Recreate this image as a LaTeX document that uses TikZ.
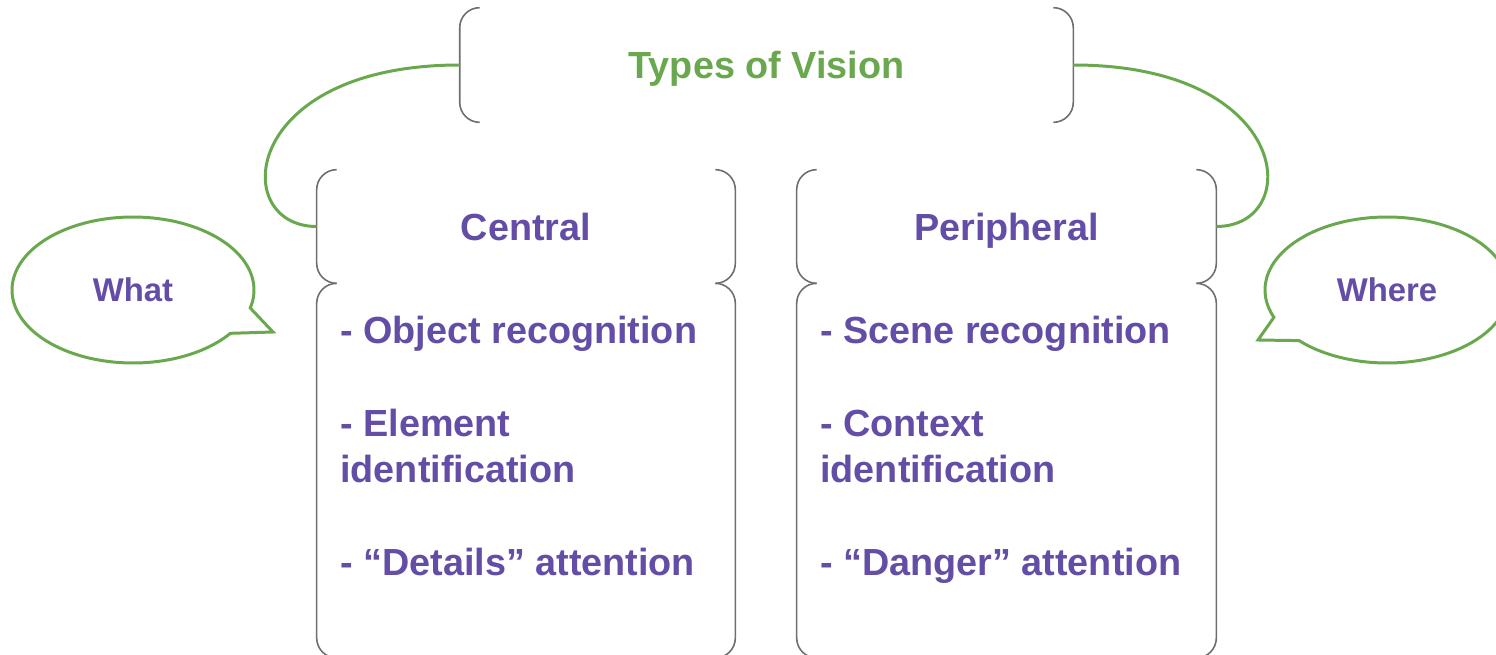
\documentclass[tikz,border=0pt]{standalone}
\usepackage{fontspec}
\setmainfont{Liberation Sans}
\usetikzlibrary{positioning}
\definecolor{visgreen}{RGB}{106,168,79}
\definecolor{vispurple}{RGB}{99,77,167}
\definecolor{visgray}{RGB}{110,110,110}
% a pair of round brackets on the left and right side of a node
\newcommand{\brackets}[1]{%
\draw[bracket] ([xshift=0.4cm]#1.north west) -- (#1.north west) -- (#1.south west) -- ([xshift=0.4cm]#1.south west);
\draw[bracket] ([xshift=-0.4cm]#1.north east) -- (#1.north east) -- (#1.south east) -- ([xshift=-0.4cm]#1.south east);}
\begin{document}
\begin{tikzpicture}[x=0.02cm, y=-0.02cm,
  box/.style={inner sep=0pt, minimum width=8.36cm, text height=15.7pt, text depth=0pt, font=\fontsize{21.5}{26}\selectfont\bfseries, text=vispurple},
  bracket/.style={draw=visgray, line width=0.9pt, rounded corners=0.4cm},
  link/.style={draw=visgreen, line width=1.7pt},
  bubble/.style={draw=visgreen, line width=1.7pt},
  items/.style={inner sep=0pt, align=left, anchor=north west, font=\fontsize{21.5}{26.4}\selectfont\bfseries, text=vispurple},
  talk/.style={font=\fontsize{18.7}{22}\selectfont\bfseries, text=vispurple}]
\useasboundingbox (0,0) rectangle (1496,655);

\node[box, text=visgreen, minimum width=12.26cm, minimum height=2.28cm] (types) at (766.5,65) {Types of Vision};
\node[box, minimum height=2.26cm] (central) at (526,226.5) {Central};
\node[box, minimum height=7.48cm, below=0pt of central] (centralList) {};
\node[box, minimum width=8.38cm, minimum height=2.26cm] (peripheral) at (1006.5,226.5) {Peripheral};
\node[box, minimum width=8.38cm, minimum height=7.48cm, below=0pt of peripheral] (peripheralList) {};

\foreach \b in {types,central,centralList,peripheral,peripheralList} {\brackets{\b}}

\node[items] (centralItems) at (340,316) {- Object recognition\\[26.4pt]- Element\\identification\\[26.4pt]- “Details” attention};
\node[items] (peripheralItems) at (820,316) {- Scene recognition\\[26.4pt]- Context\\identification\\[26.4pt]- “Danger” attention};

% green links
\draw[link] (types.west) .. controls +(-220,0) and +(-88,0) .. (central.west);
\draw[link] (types.east) .. controls +(220,0) and +(88,0) .. (peripheral.east);

% speech bubbles
\draw[bubble] plot[domain=14.3:-323.6, samples=160, variable=\t] ({133+121*cos(\t)},{290+73*sin(\t)}) -- (273,332) -- cycle;
\node[talk] (what) at (133,290) {What};
\draw[bubble] plot[domain=136.1:-202, samples=160, variable=\t] ({1387+122*cos(\t)},{290+73*sin(\t)}) -- (1258,340) -- cycle;
\node[talk] (where) at (1387,290) {Where};
\end{tikzpicture}
\end{document}
